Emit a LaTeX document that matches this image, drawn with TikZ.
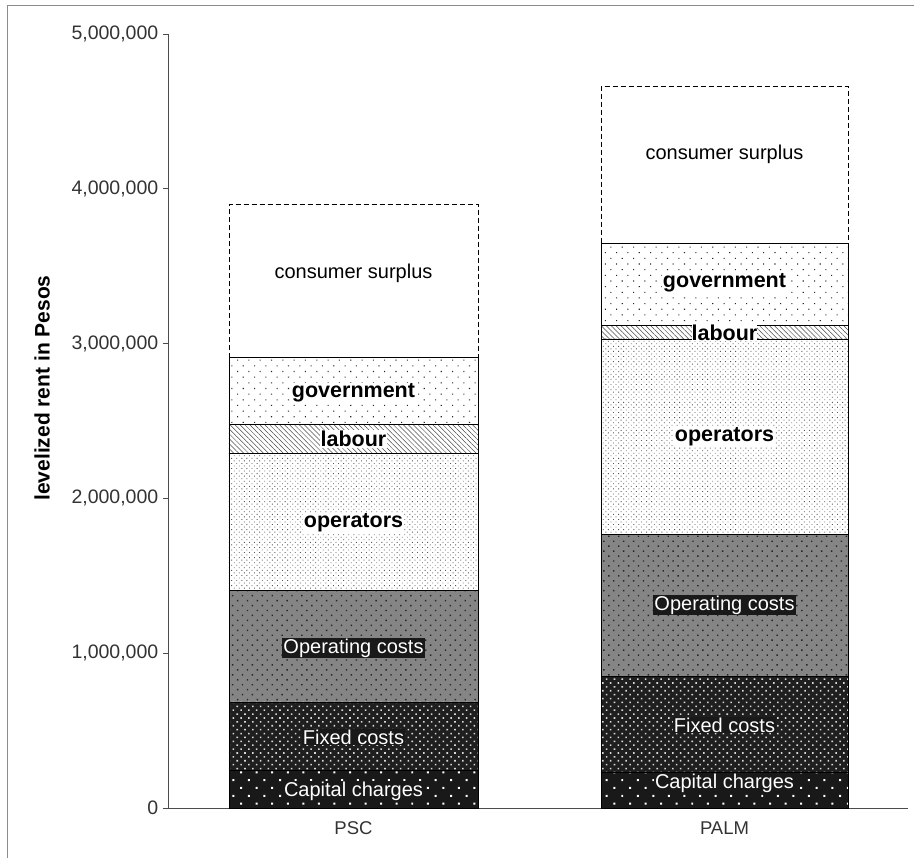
\documentclass[tikz,border=0pt]{standalone}
\usepackage{fontspec}
\setmainfont{Liberation Sans}
\usetikzlibrary{patterns.meta}

\tikzset{
  capfill/.style={draw=black,preaction={fill=black!90},pattern={Dots[distance=11pt,radius=1.4pt,angle=45]},pattern color=white},
  fixfill/.style={draw=black,preaction={fill=black!88},pattern={Dots[distance=5.5pt,radius=1.1pt,angle=45]},pattern color=white!85!black},
  opfill/.style={draw=black,preaction={fill=black!48},pattern={Dots[distance=7pt,radius=1pt,angle=45]},pattern color=black!85},
  operfill/.style={draw=black,preaction={fill=white},pattern={Dots[distance=3.6pt,radius=0.6pt,angle=45]},pattern color=black!65},
  labfill/.style={draw=black,preaction={fill=white},pattern={Lines[angle=-45,distance=3.5pt,line width=0.5pt]},pattern color=black!70},
  govfill/.style={draw=black,preaction={fill=white},pattern={Dots[distance=8pt,radius=0.75pt,angle=45]},pattern color=black!85},
  surpfill/.style={draw=black,dash pattern=on 5pt off 3pt,fill=white},
  lbl/.style={font=\fontsize{20}{24}\selectfont,inner sep=1pt},
  blbl/.style={lbl,font=\fontsize{21.5}{25}\selectfont\bfseries,fill=white},
  wlbl/.style={lbl,text=white,fill=black!90},
  ticklbl/.style={anchor=east,font=\fontsize{19.5}{24}\selectfont,text=black!80},
  catlbl/.style={font=\fontsize{18.5}{22}\selectfont,text=black!80}
}

\begin{document}
\begin{tikzpicture}[x=1pt,y=154.8pt,line width=0.8pt]
\useasboundingbox (-168,-0.323) rectangle (746,5.2196);

% scan frame
\draw[black!45,line width=1pt] (-160,-0.323) -- (-160,5.181) -- (746,5.181);

% axes
\draw[black!70] (0,5) -- (0,0) -- (740,0);
\foreach \v/\t in {0/0,1/{1,000,000},2/{2,000,000},3/{3,000,000},4/{4,000,000},5/{5,000,000}}
  \draw[black!70] (-5,\v) -- (0,\v) node[ticklbl,xshift=-6pt] (t\v) {\t};
\node[rotate=90,font=\fontsize{21}{25}\selectfont\bfseries] (ytitle) at (-126,2.713) {levelized rent in Pesos};

% PSC, top segment first
\foreach \lo/\hi/\s in {2.91/3.90/surpfill,2.48/2.91/govfill,2.29/2.48/labfill,1.404/2.29/operfill,0.685/1.404/opfill,0.24/0.685/fixfill,0/0.24/capfill}
  \draw[\s] (61,\lo) rectangle (310,\hi);

% PALM
\foreach \lo/\hi/\s in {3.65/4.66/surpfill,3.12/3.65/govfill,3.03/3.12/labfill,1.77/3.03/operfill,0.85/1.77/opfill,0.23/0.85/fixfill,0/0.23/capfill}
  \draw[\s] (433,\lo) rectangle (680,\hi);

\node[lbl] (psc-cs) at (185.5,3.456) {consumer surplus};
\node[blbl] (psc-gov) at (185.5,2.681) {government};
\node[blbl] (psc-lab) at (185.5,2.384) {labour};
\node[blbl] (psc-oper) at (185.5,1.841) {operators};
\node[wlbl] (psc-op) at (185.5,1.034) {Operating costs};
\node[wlbl] (psc-fix) at (185.5,0.459) {Fixed costs};
\node[wlbl] (psc-cap) at (185.5,0.110) {Capital charges};

\node[lbl] (palm-cs) at (556.5,4.225) {consumer surplus};
\node[blbl] (palm-gov) at (556.5,3.391) {government};
\node[blbl,inner sep=0pt] (palm-lab) at (556.5,3.068) {labour};
\node[blbl] (palm-oper) at (556.5,2.397) {operators};
\node[wlbl] (palm-op) at (556.5,1.311) {Operating costs};
\node[wlbl] (palm-fix) at (556.5,0.536) {Fixed costs};
\node[wlbl] (palm-cap) at (556.5,0.161) {Capital charges};

\node[catlbl] (psc) at (185.5,-0.129) {PSC};
\node[catlbl] (palm) at (556.5,-0.129) {PALM};
\end{tikzpicture}
\end{document}
